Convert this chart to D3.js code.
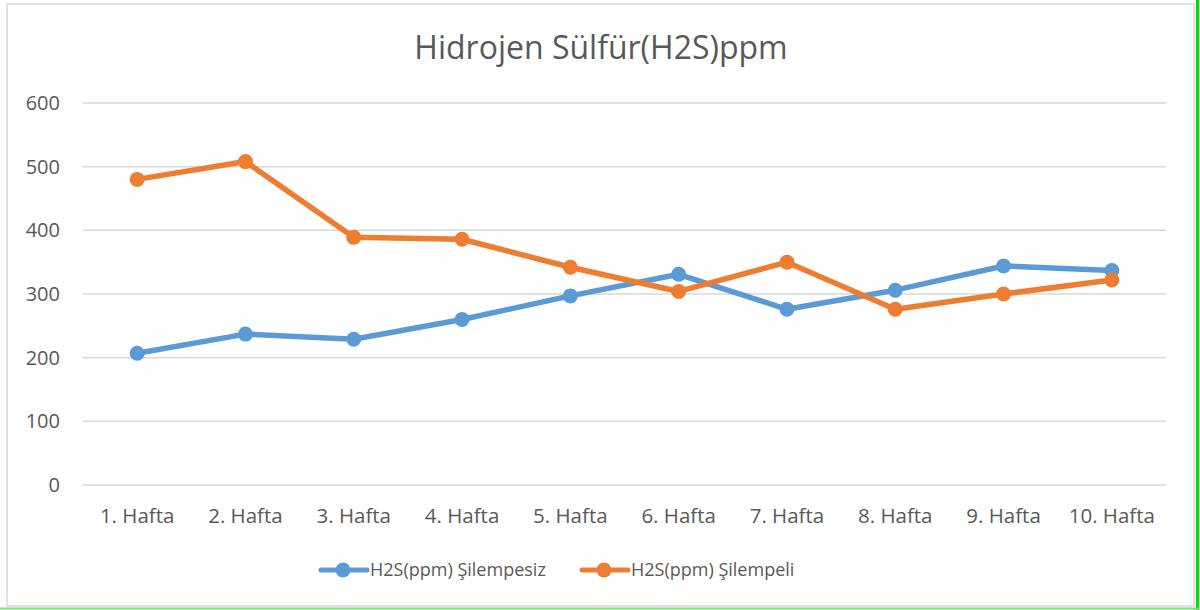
<!DOCTYPE html>
<html>
<head>
<meta charset="utf-8">
<script src="https://cdn.jsdelivr.net/npm/d3@7"></script>
<style>
  body { margin: 0; background: #fff; }
  text { font-family: "Open Sans", "Noto Sans", sans-serif; fill: #595959; }
</style>
</head>
<body>
<div id="chart"></div>
<script>
const weeks = ["1. Hafta", "2. Hafta", "3. Hafta", "4. Hafta", "5. Hafta",
  "6. Hafta", "7. Hafta", "8. Hafta", "9. Hafta", "10. Hafta"];
const silempesiz = [207, 237, 229, 260, 297, 331, 276, 306, 344, 337];
const silempeli = [480, 508, 389, 386, 342, 304, 350, 276, 300, 322];
const yTicks = [0, 100, 200, 300, 400, 500, 600];
const seriesNames = ["H2S(ppm) Şilempesiz", "H2S(ppm) Şilempeli"];
const colors = ["#5B9BD5", "#ED7D31"];

const WIDTH = 1200, HEIGHT = 610;
const svg = d3.select("#chart").append("svg")
  .attr("width", WIDTH)
  .attr("height", HEIGHT);

// outer frame
svg.append("rect")
  .attr("x", 7).attr("y", 4)
  .attr("width", 1187).attr("height", 602)
  .attr("fill", "#fff").attr("stroke", "#d9d9d9").attr("stroke-width", 1.5);
svg.append("line")
  .attr("x1", 1197.5).attr("x2", 1197.5).attr("y1", 0).attr("y2", 610)
  .attr("stroke", "#00e000").attr("stroke-width", 3);
svg.append("line")
  .attr("x1", 0).attr("x2", 1200).attr("y1", 608.5).attr("y2", 608.5)
  .attr("stroke", "#7ddc7d").attr("stroke-width", 2);

const x = d3.scaleBand().domain(weeks).range([83, 1166]);
const y = d3.scaleLinear().domain([0, 600]).range([485, 103]);

// gridlines
svg.append("g").selectAll("line")
  .data(yTicks)
  .enter().append("line")
  .attr("x1", 83).attr("x2", 1166)
  .attr("y1", d => y(d)).attr("y2", d => y(d))
  .attr("stroke", "#d9d9d9").attr("stroke-width", 1.5);

// y labels
svg.append("g").selectAll("text")
  .data(yTicks)
  .enter().append("text")
  .attr("x", 60).attr("y", d => y(d))
  .attr("dy", "0.35em")
  .attr("text-anchor", "end")
  .style("font-size", "20px")
  .text(d => d);

// x labels
svg.append("g").selectAll("text")
  .data(weeks)
  .enter().append("text")
  .attr("x", d => x(d) + x.bandwidth() / 2)
  .attr("y", 523)
  .attr("text-anchor", "middle")
  .style("font-size", "20.5px")
  .text(d => d);

// title
svg.append("text")
  .attr("x", 601).attr("y", 59)
  .attr("text-anchor", "middle")
  .style("font-size", "32px")
  .text("Hidrojen Sülfür(H2S)ppm");

const line = d3.line()
  .x((d, i) => x(weeks[i]) + x.bandwidth() / 2)
  .y(d => y(d));

[silempesiz, silempeli].forEach(function(vals, k) {
  svg.append("path")
    .datum(vals)
    .attr("d", line)
    .attr("fill", "none")
    .attr("stroke", colors[k])
    .attr("stroke-width", 5.5)
    .attr("stroke-linejoin", "round");
  svg.append("g").selectAll("circle")
    .data(vals)
    .enter().append("circle")
    .attr("cx", (d, i) => x(weeks[i]) + x.bandwidth() / 2)
    .attr("cy", d => y(d))
    .attr("r", 7.5)
    .attr("fill", colors[k]);
});

// legend
const legendX = [321, 582];
seriesNames.forEach(function(name, k) {
  const g = svg.append("g").attr("transform", "translate(" + legendX[k] + ",570)");
  g.append("line")
    .attr("x1", 0).attr("x2", 46)
    .attr("stroke", colors[k]).attr("stroke-width", 5)
    .attr("stroke-linecap", "round");
  g.append("circle").attr("cx", 22).attr("r", 7.5).attr("fill", colors[k]);
  g.append("text")
    .attr("x", 49).attr("dy", "0.35em")
    .style("font-size", "18px")
    .text(name);
});
</script>
</body>
</html>
